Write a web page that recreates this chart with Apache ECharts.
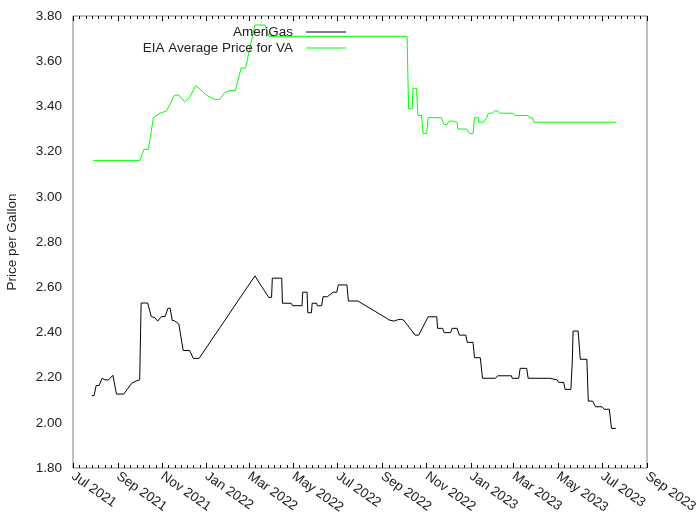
<!DOCTYPE html>
<html>
<head>
<meta charset="utf-8">
<script src="https://cdn.jsdelivr.net/npm/echarts@6/dist/echarts.min.js"></script>
<style>html,body{margin:0;padding:0;background:#fff;}#chart{width:700px;height:525px;}</style>
</head>
<body>
<div id="chart"></div>
<script>
var amerigasDates = ['2021-07-27','2021-07-30','2021-08-02','2021-08-06','2021-08-10','2021-08-14','2021-08-19','2021-08-25','2021-08-27','2021-08-30',
'2021-09-09','2021-09-20','2021-09-26','2021-09-28','2021-10-01','2021-10-03','2021-10-12','2021-10-17','2021-10-22','2021-10-26',
'2021-10-31','2021-11-05','2021-11-09','2021-11-12','2021-11-15','2021-11-18','2021-11-24','2021-11-26','2021-11-30','2021-12-09',
'2021-12-14','2021-12-22','2022-03-09','2022-03-28','2022-04-01','2022-04-02','2022-04-15','2022-04-16','2022-04-28','2022-04-30',
'2022-05-13','2022-05-14','2022-05-20','2022-05-21','2022-05-26','2022-05-27','2022-06-02','2022-06-03','2022-06-09','2022-06-11',
'2022-06-17','2022-06-25','2022-06-30','2022-07-02','2022-07-14','2022-07-16','2022-07-29','2022-09-07','2022-09-10','2022-09-17',
'2022-09-21','2022-09-26','2022-09-30','2022-10-16','2022-10-21','2022-11-03','2022-11-15','2022-11-16','2022-11-23','2022-11-25',
'2022-12-04','2022-12-06','2022-12-13','2022-12-16','2022-12-25','2022-12-27','2023-01-04','2023-01-06','2023-01-14','2023-01-17',
'2023-02-04','2023-02-07','2023-02-26','2023-02-27','2023-03-08','2023-03-10','2023-03-19','2023-03-21','2023-04-20','2023-04-21',
'2023-04-30','2023-05-02','2023-05-09','2023-05-11','2023-05-19','2023-05-21','2023-05-22','2023-05-29','2023-06-01','2023-06-10',
'2023-06-12','2023-06-18','2023-06-22','2023-07-01','2023-07-04','2023-07-11','2023-07-14','2023-07-20'];
var amerigasPrices = [2.12,2.12,2.165,2.165,2.197,2.19,2.19,2.21,2.21,2.127,
2.127,2.175,2.185,2.19,2.19,2.53,2.53,2.47,2.465,2.45,
2.47,2.47,2.507,2.507,2.452,2.452,2.437,2.437,2.32,2.32,
2.285,2.285,2.65,2.555,2.555,2.64,2.64,2.529,2.529,2.518,
2.518,2.578,2.578,2.487,2.487,2.529,2.529,2.518,2.518,2.558,
2.558,2.578,2.578,2.61,2.61,2.539,2.539,2.462,2.455,2.45,
2.455,2.458,2.455,2.388,2.388,2.469,2.469,2.418,2.418,2.399,
2.399,2.418,2.418,2.388,2.388,2.356,2.356,2.288,2.288,2.197,
2.197,2.208,2.208,2.197,2.197,2.241,2.241,2.197,2.197,2.19,
2.19,2.179,2.179,2.148,2.148,2.278,2.406,2.406,2.281,2.281,
2.096,2.096,2.071,2.071,2.06,2.06,1.975,1.975];

var eiaDates = ['2021-07-29','2021-10-01','2021-10-07','2021-10-13','2021-10-20','2021-10-29','2021-11-07','2021-11-18','2021-11-24','2021-12-02',
'2021-12-09','2021-12-17','2021-12-22','2022-01-01','2022-01-13','2022-01-19','2022-01-26','2022-02-02','2022-02-10','2022-02-18',
'2022-02-24','2022-03-09','2022-03-23','2022-03-28','2022-03-30','2022-10-05','2022-10-06','2022-10-07','2022-10-12','2022-10-13',
'2022-10-18','2022-10-20','2022-10-25','2022-10-27','2022-11-01','2022-11-03','2022-11-21','2022-11-25','2022-11-29','2022-12-02',
'2022-12-07','2022-12-09','2022-12-13','2022-12-14','2022-12-26','2022-12-30','2023-01-04','2023-01-06','2023-01-11','2023-01-12',
'2023-01-18','2023-01-23','2023-01-25','2023-01-31','2023-02-03','2023-02-07','2023-02-10','2023-02-28','2023-03-03','2023-03-21',
'2023-03-23','2023-03-27','2023-03-29','2023-07-21'];
var eiaPrices = [3.16,3.16,3.21,3.21,3.35,3.37,3.38,3.45,3.45,3.42,
3.44,3.49,3.48,3.45,3.43,3.43,3.46,3.47,3.47,3.57,
3.57,3.76,3.76,3.71,3.71,3.71,3.55,3.39,3.39,3.48,
3.48,3.36,3.36,3.28,3.28,3.35,3.35,3.32,3.32,3.335,
3.335,3.33,3.33,3.30,3.30,3.28,3.28,3.35,3.35,3.33,
3.33,3.35,3.37,3.37,3.38,3.38,3.37,3.37,3.36,3.36,
3.35,3.35,3.33,3.33];

var seriesNames = ['AmeriGas', 'EIA Average Price for VA'];
var xMin = '2021-07-01', xMax = '2023-09-01';
var yMin = 1.8, yMax = 3.8, yStep = 0.2;
var monthNames = ['Jan','Feb','Mar','Apr','May','Jun','Jul','Aug','Sep','Oct','Nov','Dec'];

function pairs(d, v) { return d.map(function (x, i) { return [x, v[i]]; }); }

var DAY = 86400000;
var chart = echarts.init(document.getElementById('chart'), null, {renderer: 'canvas'});
var font = 'Liberation Sans, Arial, sans-serif';
var fs = 13.5;
var tickStyle = {color: '#000', width: 1};
chart.setOption({
  animation: false,
  backgroundColor: '#fff',
  textStyle: {fontFamily: font},
  grid: {left: 73, right: 53, top: 16, bottom: 57, show: true, borderColor: '#808080', borderWidth: 1,
         backgroundColor: 'transparent', containLabel: false, outerBoundsMode: 'none'},
  legend: {
    orient: 'vertical', align: 'right', right: 349, top: 20,
    itemWidth: 40, itemHeight: 1, itemGap: 2, icon: 'rect',
    textStyle: {fontFamily: font, fontSize: fs, color: '#222', padding: [0, 8, 0, 0]},
    data: seriesNames
  },
  xAxis: [{
    type: 'time', min: xMin, max: xMax, position: 'bottom',
    minInterval: 65 * DAY, maxInterval: 65 * DAY,
    axisLine: {show: false},
    axisTick: {inside: true, length: 5, lineStyle: tickStyle},
    minorTick: {show: true, splitNumber: 7, length: 3, lineStyle: tickStyle},
    splitLine: {show: false},
    axisLabel: {
      rotate: -35, margin: 7, fontSize: fs, color: '#222', fontFamily: font,
      showMinLabel: true, showMaxLabel: true, hideOverlap: false,
      formatter: function (v) { var d = new Date(v); return monthNames[d.getMonth()] + ' ' + d.getFullYear(); }
    }
  }, {
    type: 'time', min: xMin, max: xMax, position: 'top',
    minInterval: 65 * DAY, maxInterval: 65 * DAY,
    axisLine: {show: false},
    axisTick: {inside: true, length: 5, lineStyle: tickStyle},
    minorTick: {show: true, splitNumber: 7, length: 3, lineStyle: tickStyle},
    splitLine: {show: false},
    axisLabel: {show: false}
  }],
  yAxis: [{
    type: 'value', min: yMin, max: yMax, interval: yStep, position: 'left',
    name: 'Price per Gallon', nameLocation: 'middle', nameGap: 54, nameRotate: 90,
    nameTextStyle: {fontSize: fs, color: '#222', fontFamily: font},
    axisLine: {show: false},
    axisTick: {inside: true, length: 6, lineStyle: tickStyle},
    splitLine: {show: false},
    axisLabel: {fontSize: fs, color: '#222', margin: 11, fontFamily: font, formatter: function (v) { return v.toFixed(2); }}
  }, {
    type: 'value', min: yMin, max: yMax, interval: yStep, position: 'right',
    axisLine: {show: false},
    axisTick: {inside: true, length: 6, lineStyle: tickStyle},
    splitLine: {show: false},
    axisLabel: {show: false}
  }],
  series: [{
    name: seriesNames[0], type: 'line', symbol: 'none', xAxisIndex: 0, yAxisIndex: 0,
    lineStyle: {color: '#000000', width: 1}, itemStyle: {color: '#000000'},
    data: pairs(amerigasDates, amerigasPrices)
  }, {
    name: seriesNames[1], type: 'line', symbol: 'none', xAxisIndex: 0, yAxisIndex: 0,
    lineStyle: {color: '#00ff00', width: 1}, itemStyle: {color: '#00ff00'},
    data: pairs(eiaDates, eiaPrices)
  }]
});
</script>
</body>
</html>
